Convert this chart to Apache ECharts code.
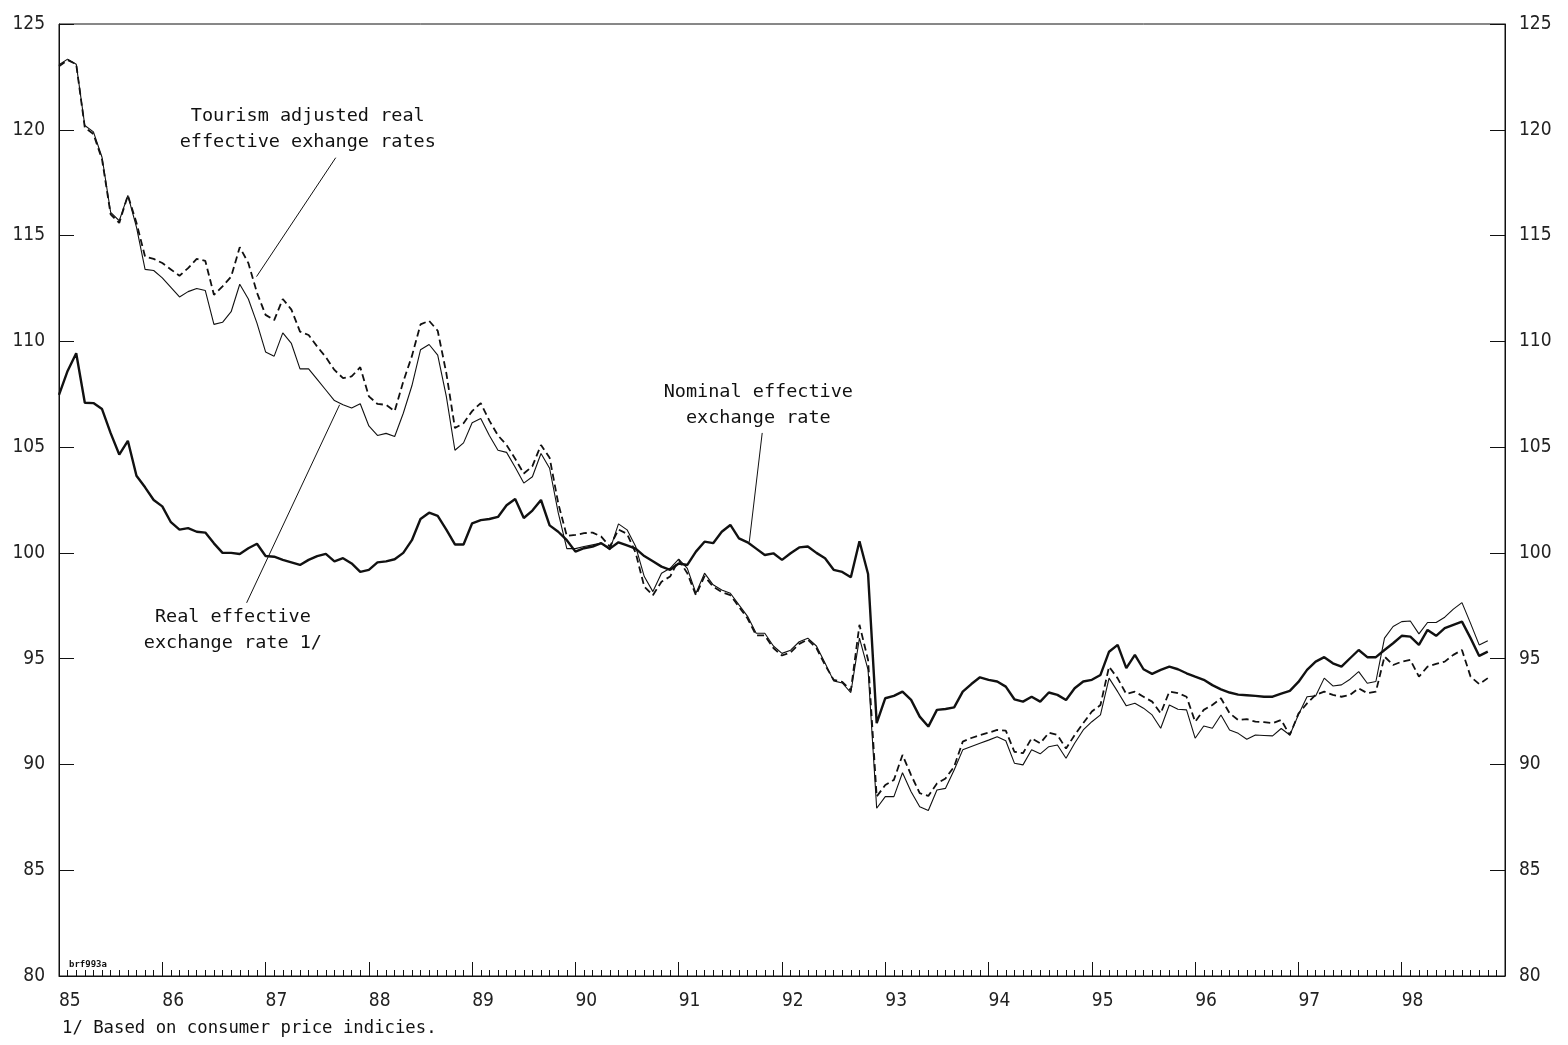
<!DOCTYPE html>
<html>
<head>
<meta charset="utf-8">
<title>Effective exchange rates</title>
<script src="https://cdn.jsdelivr.net/npm/echarts@6/dist/echarts.min.js"></script>
<style>
html, body { margin: 0; padding: 0; background: #fff; }
#chart { width: 1568px; height: 1045px; }
</style>
</head>
<body>
<div id="chart"></div>
<script>
// monthly observations, index 0 = Jan 1985, last = Nov 1998
var yearLabels = ['85', '86', '87', '88', '89', '90', '91', '92', '93', '94', '95', '96', '97', '98'];

var nominal = [
	107.47, 108.6, 109.44, 107.1, 107.08, 106.8, 105.66, 104.65, 105.3, 103.65, 103.1, 102.5,
	102.2, 101.45, 101.1, 101.17, 101.0, 100.96, 100.45, 100.0, 100.0, 99.95, 100.22, 100.43,
	99.85, 99.82, 99.67, 99.55, 99.43, 99.67, 99.85, 99.95, 99.6, 99.75, 99.5, 99.1,
	99.2, 99.55, 99.6, 99.7, 100.0, 100.6, 101.6, 101.9, 101.75, 101.1, 100.4, 100.4,
	101.4, 101.55, 101.6, 101.7, 102.25, 102.55, 101.65, 102.0, 102.5, 101.3, 101.0, 100.6,
	100.06, 100.22, 100.3, 100.46, 100.2, 100.5, 100.35, 100.2, 99.85, 99.6, 99.35, 99.2,
	99.5, 99.43, 100.06, 100.53, 100.46, 101.0, 101.32, 100.69, 100.5, 100.2, 99.9, 99.98,
	99.67, 99.98, 100.26, 100.3, 100.0, 99.75, 99.2, 99.1, 98.85, 100.55, 99.0, 91.95,
	93.13, 93.24, 93.44, 93.05, 92.26, 91.79, 92.58, 92.62, 92.7, 93.44, 93.8, 94.12,
	94.0, 93.92, 93.68, 93.08, 92.97, 93.2, 92.97, 93.4, 93.29, 93.05, 93.6, 93.92,
	94.0, 94.23, 95.33, 95.65, 94.55, 95.18, 94.5, 94.28, 94.47, 94.62, 94.5, 94.31,
	94.15, 94.0, 93.75, 93.55, 93.4, 93.3, 93.27, 93.24, 93.2, 93.2, 93.35, 93.48,
	93.9, 94.47, 94.86, 95.07, 94.78, 94.62, 95.02, 95.41, 95.07, 95.07, 95.41, 95.73,
	96.08, 96.04, 95.65, 96.36, 96.08, 96.44, 96.6, 96.75, 95.97, 95.13, 95.33
];

var real = [
	123.07, 123.34, 123.1, 120.2, 119.9, 118.7, 116.1, 115.7, 116.9, 115.4, 113.4, 113.35,
	113.0, 112.55, 112.1, 112.35, 112.5, 112.4, 110.8, 110.9, 111.4, 112.7, 112.0, 110.86,
	109.5, 109.3, 110.4, 109.9, 108.7, 108.7, 108.2, 107.7, 107.2, 107.0, 106.85, 107.05,
	106.0, 105.55, 105.65, 105.5, 106.6, 107.9, 109.6, 109.85, 109.35, 107.4, 104.85, 105.2,
	106.15, 106.35, 105.55, 104.85, 104.75, 104.05, 103.3, 103.6, 104.7, 104.0, 101.9, 100.2,
	100.2, 100.3, 100.38, 100.46, 100.14, 101.37, 101.09, 100.3, 98.88, 98.17, 99.04, 99.27,
	99.7, 99.27, 98.09, 99.04, 98.49, 98.25, 98.09, 97.54, 97.0, 96.2, 96.2, 95.6,
	95.25, 95.4, 95.8, 95.97, 95.6, 94.8, 93.95, 93.85, 93.4, 95.97, 94.47, 87.93,
	88.48, 88.48, 89.61, 88.71, 88.0, 87.82, 88.79, 88.87, 89.74, 90.69, 90.85, 91.0,
	91.15, 91.31, 91.12, 90.06, 89.98, 90.69, 90.5, 90.84, 90.92, 90.29, 91.0, 91.63,
	92.02, 92.34, 94.08, 93.44, 92.77, 92.89, 92.66, 92.34, 91.71, 92.81, 92.61, 92.58,
	91.24, 91.82, 91.71, 92.34, 91.63, 91.47, 91.19, 91.39, 91.37, 91.35, 91.7, 91.39,
	92.35, 93.2, 93.24, 94.08, 93.71, 93.76, 94.03, 94.39, 93.84, 93.92, 95.97, 96.52,
	96.75, 96.78, 96.17, 96.71, 96.71, 96.96, 97.34, 97.65, 96.67, 95.65, 95.85
];

var tourismReal = [
	123.0, 123.3, 123.1, 120.1, 119.8, 118.6, 116.0, 115.6, 116.9, 115.6, 114.0, 113.9,
	113.7, 113.4, 113.1, 113.46, 113.9, 113.8, 112.2, 112.6, 113.06, 114.45, 113.7, 112.3,
	111.25, 111.0, 112.0, 111.5, 110.46, 110.3, 109.75, 109.25, 108.65, 108.26, 108.34, 108.78,
	107.4, 107.04, 107.0, 106.7, 108.1, 109.3, 110.8, 110.97, 110.5, 108.5, 105.9, 106.13,
	106.7, 107.08, 106.25, 105.55, 105.1, 104.45, 103.75, 104.1, 105.1, 104.5, 102.35, 100.8,
	100.85, 100.93, 100.96, 100.77, 100.3, 101.1, 100.9, 100.0, 98.4, 98.0, 98.64, 98.88,
	99.67, 99.04, 98.0, 98.9, 98.4, 98.15, 98.0, 97.45, 96.9, 96.1, 96.1, 95.5,
	95.15, 95.3, 95.7, 95.9, 95.5, 94.7, 94.0, 93.9, 93.5, 96.6, 94.94, 88.48,
	89.03, 89.27, 90.45, 89.5, 88.64, 88.51, 89.1, 89.34, 89.9, 91.08, 91.25, 91.39,
	91.5, 91.63, 91.6, 90.6, 90.53, 91.24, 91.0, 91.5, 91.39, 90.75, 91.39, 91.95,
	92.5, 92.81, 94.62, 94.07, 93.33, 93.44, 93.2, 92.97, 92.42, 93.44, 93.37, 93.2,
	92.02, 92.58, 92.81, 93.13, 92.42, 92.1, 92.14, 92.02, 92.0, 91.95, 92.1, 91.39,
	92.4, 92.89, 93.29, 93.44, 93.29, 93.2, 93.29, 93.6, 93.37, 93.44, 95.1, 94.7,
	94.86, 94.94, 94.15, 94.62, 94.75, 94.86, 95.18, 95.41, 94.15, 93.8, 94.08
];

// callouts, positions in axis units [month index, value]
var notes = [
	{ text: 'Tourism adjusted real\neffective exhange rates', at: [28.9, 120.05], from: [32.15, 118.68], to: [22.95, 113.06] },
	{ text: 'Nominal effective\nexchange rate', at: [81.25, 107.0], from: [81.7, 105.67], to: [80.2, 100.52] },
	{ text: 'Real effective\nexchange rate 1/', at: [20.2, 96.36], from: [21.8, 97.64], to: [32.6, 107.0] }
];

var numFont = "'Liberation Sans Narrow', 'DejaVu Sans Condensed', sans-serif";
var noteFont = "'DejaVu Sans Mono', monospace";

function toPairs(arr) {
	return arr.map(function (v, i) { return [i, v]; });
}

function yAxisDef(pos) {
	return {
		type: 'value',
		position: pos,
		min: 80,
		max: 125,
		interval: 5,
		axisLine: { show: true, onZero: false, lineStyle: { color: '#111', width: 1 } },
		axisTick: { show: true, inside: true, length: 15, lineStyle: { color: '#111' } },
		axisLabel: { color: '#222', fontSize: 19, fontFamily: numFont, margin: 14 },
		splitLine: { show: false }
	};
}

var chart = echarts.init(document.getElementById('chart'));

var option = {
	animation: false,
	backgroundColor: '#fff',
	grid: { left: 59, right: 63, top: 24, bottom: 69, show: true, borderColor: '#111', borderWidth: 1 },
	xAxis: [
		{
			// years
			type: 'value',
			position: 'bottom',
			min: 0,
			max: 168,
			interval: 12,
			axisLine: { show: true, onZero: false, lineStyle: { color: '#111', width: 1 } },
			axisTick: { show: true, inside: true, length: 14, lineStyle: { color: '#111' } },
			axisLabel: {
				color: '#222', fontSize: 19, fontFamily: numFont, margin: 16, align: 'left',
				formatter: function (v) {
					var k = Math.round(v / 12);
					return yearLabels[k] || '';
				}
			},
			splitLine: { show: false }
		},
		{
			// months
			type: 'value',
			position: 'bottom',
			min: 0,
			max: 168,
			interval: 1,
			axisLine: { show: false, onZero: false },
			axisTick: { show: true, inside: true, length: 6, lineStyle: { color: '#111' } },
			axisLabel: { show: false },
			splitLine: { show: false }
		}
	],
	yAxis: [yAxisDef('left'), yAxisDef('right')],
	series: [
		{
			name: 'Nominal effective exchange rate', type: 'line', data: toPairs(nominal),
			showSymbol: false, lineStyle: { color: '#111', width: 2.4 }
		},
		{
			name: 'Real effective exchange rate', type: 'line', data: toPairs(real),
			showSymbol: false, lineStyle: { color: '#111', width: 1.1 }
		},
		{
			name: 'Tourism adjusted real effective exchange rate', type: 'line', data: toPairs(tourismReal),
			showSymbol: false, lineStyle: { color: '#111', width: 1.8, type: [7, 4] }
		}
	]
};

chart.setOption(option);

// callout texts and pointer lines, placed from axis units
var graphics = [];
notes.forEach(function (n) {
	var p = chart.convertToPixel({ gridIndex: 0 }, n.at);
	var a = chart.convertToPixel({ gridIndex: 0 }, n.from);
	var b = chart.convertToPixel({ gridIndex: 0 }, n.to);
	graphics.push({
		type: 'text', x: p[0], y: p[1],
		style: { text: n.text, fill: '#111', font: '18.5px ' + noteFont, align: 'center', verticalAlign: 'middle', lineHeight: 26 }
	});
	graphics.push({
		type: 'line', shape: { x1: a[0], y1: a[1], x2: b[0], y2: b[1] },
		style: { stroke: '#111', lineWidth: 1 }
	});
});
graphics.push({
	type: 'text', left: 62, top: 1020,
	style: { text: '1/ Based on consumer price indicies.', fill: '#111', font: '17.3px ' + noteFont }
});
graphics.push({
	type: 'text', left: 69, top: 960,
	style: { text: 'brf993a', fill: '#111', font: 'bold 9px ' + noteFont }
});
chart.setOption({ graphic: graphics });
</script>
</body>
</html>
